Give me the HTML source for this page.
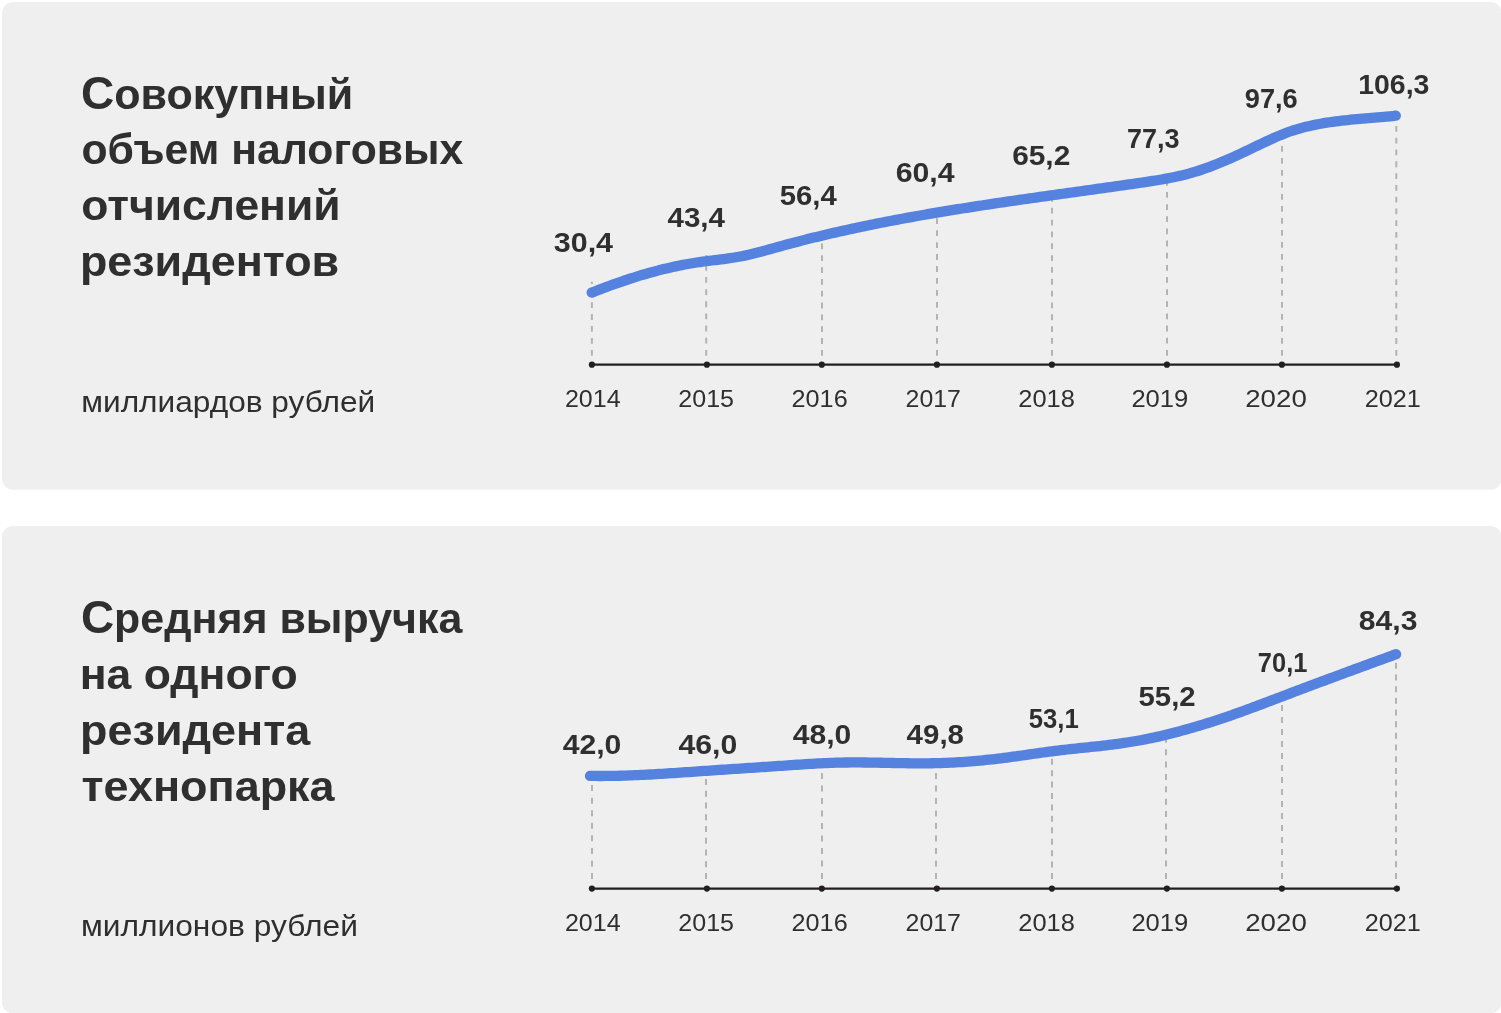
<!DOCTYPE html>
<html lang="ru"><head><meta charset="utf-8"><title>Показатели резидентов технопарка</title>
<style>
html,body{margin:0;padding:0;background:#fff;}
body{width:1501px;height:1013px;overflow:hidden;position:relative;}
svg{position:absolute;left:0;top:0;display:block;will-change:transform;}
.t{font-family:"Liberation Sans",Arial,sans-serif;font-weight:700;font-size:43px;fill:#2f2f2f;}
.s{font-family:"Liberation Sans",Arial,sans-serif;font-weight:400;font-size:30px;fill:#2f2f2f;}
.v{font-family:"Liberation Sans",Arial,sans-serif;font-weight:700;font-size:27px;fill:#2f2f2f;}
.y{font-family:"Liberation Sans",Arial,sans-serif;font-weight:400;font-size:24px;fill:#2f2f2f;}

</style></head><body>
<svg width="1501" height="1013" viewBox="0 0 1501 1013">
<rect x="2" y="2" width="1499.5" height="487.8" rx="11" ry="11" fill="#efefef"/>
<rect x="2" y="525.9" width="1499.5" height="487.4" rx="11" ry="11" fill="#efefef"/>
<line x1="591.9" y1="355.70" x2="591.9" y2="281.80" stroke="#b3b3b3" stroke-width="2" stroke-dasharray="5.8 6.130"/>
<line x1="706.2" y1="355.70" x2="706.2" y2="255.00" stroke="#b3b3b3" stroke-width="2" stroke-dasharray="5.8 6.343"/>
<line x1="822.0" y1="355.70" x2="822.0" y2="235.61" stroke="#b3b3b3" stroke-width="2" stroke-dasharray="5.8 6.022"/>
<line x1="937.0" y1="355.70" x2="937.0" y2="212.61" stroke="#b3b3b3" stroke-width="2" stroke-dasharray="5.8 6.173"/>
<line x1="1052.0" y1="355.70" x2="1052.0" y2="195.25" stroke="#b3b3b3" stroke-width="2" stroke-dasharray="5.8 6.042"/>
<line x1="1167.0" y1="355.70" x2="1167.0" y2="178.52" stroke="#b3b3b3" stroke-width="2" stroke-dasharray="5.8 6.346"/>
<line x1="1282.0" y1="355.70" x2="1282.0" y2="134.50" stroke="#b3b3b3" stroke-width="2" stroke-dasharray="5.8 6.200"/>
<line x1="1396.3" y1="355.70" x2="1396.3" y2="115.70" stroke="#b3b3b3" stroke-width="2" stroke-dasharray="5.8 5.984"/>
<line x1="591.9" y1="364.7" x2="1396.9" y2="364.7" stroke="#231f20" stroke-width="2.2"/>
<circle cx="591.9" cy="364.7" r="3.1" fill="#231f20"/>
<circle cx="706.9" cy="364.7" r="3.1" fill="#231f20"/>
<circle cx="821.8" cy="364.7" r="3.1" fill="#231f20"/>
<circle cx="936.9" cy="364.7" r="3.1" fill="#231f20"/>
<circle cx="1051.9" cy="364.7" r="3.1" fill="#231f20"/>
<circle cx="1166.9" cy="364.7" r="3.1" fill="#231f20"/>
<circle cx="1281.9" cy="364.7" r="3.1" fill="#231f20"/>
<circle cx="1396.9" cy="364.7" r="3.1" fill="#231f20"/>
<path d="M591.7,292.60L594.7,291.42L597.7,290.26L600.7,289.11L603.7,287.97L606.7,286.85L609.7,285.75L612.7,284.67L615.7,283.60L618.7,282.55L621.7,281.51L624.7,280.50L627.7,279.50L630.7,278.52L633.7,277.56L636.7,276.62L639.7,275.70L642.7,274.80L645.7,273.93L648.7,273.07L651.7,272.23L654.7,271.42L657.7,270.62L660.7,269.85L663.7,269.11L666.7,268.38L669.7,267.68L672.7,267.00L675.7,266.35L678.7,265.72L681.7,265.12L684.7,264.55L687.7,263.99L690.7,263.47L693.7,262.97L696.7,262.50L699.7,262.05L702.7,261.64L705.7,261.24L708.7,260.86L711.7,260.50L714.7,260.13L717.7,259.77L720.7,259.41L723.7,259.03L726.7,258.63L729.7,258.21L732.7,257.76L735.7,257.28L738.7,256.76L741.7,256.19L744.7,255.58L747.7,254.93L750.7,254.23L753.7,253.51L756.7,252.76L759.7,251.98L762.7,251.18L765.7,250.37L768.7,249.54L771.7,248.71L774.7,247.87L777.7,247.04L780.7,246.21L783.7,245.39L786.7,244.57L789.7,243.77L792.7,242.97L795.7,242.18L798.7,241.40L801.7,240.63L804.7,239.87L807.7,239.11L810.7,238.36L813.7,237.62L816.7,236.88L819.7,236.16L822.7,235.44L825.7,234.73L828.7,234.02L831.7,233.32L834.7,232.63L837.7,231.95L840.7,231.27L843.7,230.60L846.7,229.94L849.7,229.28L852.7,228.63L855.7,227.98L858.7,227.35L861.7,226.71L864.7,226.09L867.7,225.47L870.7,224.85L873.7,224.25L876.7,223.64L879.7,223.05L882.7,222.46L885.7,221.87L888.7,221.29L891.7,220.71L894.7,220.14L897.7,219.58L900.7,219.02L903.7,218.46L906.7,217.91L909.7,217.37L912.7,216.83L915.7,216.29L918.7,215.76L921.7,215.23L924.7,214.71L927.7,214.19L930.7,213.67L933.7,213.16L936.7,212.66L939.7,212.15L942.7,211.66L945.7,211.16L948.7,210.67L951.7,210.18L954.7,209.69L957.7,209.21L960.7,208.73L963.7,208.26L966.7,207.79L969.7,207.32L972.7,206.85L975.7,206.39L978.7,205.93L981.7,205.47L984.7,205.01L987.7,204.56L990.7,204.11L993.7,203.66L996.7,203.21L999.7,202.77L1002.7,202.32L1005.7,201.88L1008.7,201.44L1011.7,201.00L1014.7,200.57L1017.7,200.13L1020.7,199.70L1023.7,199.27L1026.7,198.84L1029.7,198.41L1032.7,197.98L1035.7,197.56L1038.7,197.13L1041.7,196.71L1044.7,196.28L1047.7,195.86L1050.7,195.44L1053.7,195.02L1056.7,194.59L1059.7,194.17L1062.7,193.75L1065.7,193.33L1068.7,192.91L1071.7,192.50L1074.7,192.08L1077.7,191.66L1080.7,191.24L1083.7,190.82L1086.7,190.40L1089.7,189.98L1092.7,189.56L1095.7,189.14L1098.7,188.72L1101.7,188.30L1104.7,187.87L1107.7,187.45L1110.7,187.03L1113.7,186.60L1116.7,186.18L1119.7,185.75L1122.7,185.32L1125.7,184.89L1128.7,184.47L1131.7,184.03L1134.7,183.60L1137.7,183.17L1140.7,182.73L1143.7,182.29L1146.7,181.85L1149.7,181.40L1152.7,180.94L1155.7,180.47L1158.7,179.98L1161.7,179.47L1164.7,178.94L1167.7,178.39L1170.7,177.81L1173.7,177.20L1176.7,176.56L1179.7,175.88L1182.7,175.17L1185.7,174.41L1188.7,173.62L1191.7,172.78L1194.7,171.89L1197.7,170.96L1200.7,169.98L1203.7,168.96L1206.7,167.91L1209.7,166.81L1212.7,165.68L1215.7,164.51L1218.7,163.31L1221.7,162.07L1224.7,160.81L1227.7,159.51L1230.7,158.18L1233.7,156.83L1236.7,155.46L1239.7,154.07L1242.7,152.66L1245.7,151.24L1248.7,149.81L1251.7,148.37L1254.7,146.94L1257.7,145.51L1260.7,144.08L1263.7,142.66L1266.7,141.26L1269.7,139.87L1272.7,138.51L1275.7,137.17L1278.7,135.88L1281.7,134.63L1284.7,133.43L1287.7,132.30L1290.7,131.24L1293.7,130.25L1296.7,129.31L1299.7,128.44L1302.7,127.62L1305.7,126.85L1308.7,126.14L1311.7,125.47L1314.7,124.84L1317.7,124.25L1320.7,123.70L1323.7,123.18L1326.7,122.70L1329.7,122.24L1332.7,121.82L1335.7,121.42L1338.7,121.04L1341.7,120.69L1344.7,120.35L1347.7,120.04L1350.7,119.74L1353.7,119.45L1356.7,119.17L1359.7,118.91L1362.7,118.65L1365.7,118.39L1368.7,118.14L1371.7,117.90L1374.7,117.65L1377.7,117.40L1380.7,117.14L1383.7,116.87L1386.7,116.60L1389.7,116.32L1392.7,116.02L1395.7,115.71L1395.8,115.70" fill="none" stroke="#5482de" stroke-width="10.3" stroke-linecap="round" stroke-linejoin="round"/>
<line x1="592.0" y1="879.00" x2="592.0" y2="775.94" stroke="#b3b3b3" stroke-width="2" stroke-dasharray="6.0 6.557"/>
<line x1="706.0" y1="879.00" x2="706.0" y2="770.84" stroke="#b3b3b3" stroke-width="2" stroke-dasharray="6.0 5.763"/>
<line x1="822.0" y1="879.00" x2="822.0" y2="763.25" stroke="#b3b3b3" stroke-width="2" stroke-dasharray="6.0 6.487"/>
<line x1="936.0" y1="879.00" x2="936.0" y2="763.17" stroke="#b3b3b3" stroke-width="2" stroke-dasharray="6.0 6.487"/>
<line x1="1052.0" y1="879.00" x2="1052.0" y2="751.31" stroke="#b3b3b3" stroke-width="2" stroke-dasharray="6.0 5.430"/>
<line x1="1166.0" y1="879.00" x2="1166.0" y2="734.75" stroke="#b3b3b3" stroke-width="2" stroke-dasharray="6.0 6.380"/>
<line x1="1282.0" y1="879.00" x2="1282.0" y2="696.47" stroke="#b3b3b3" stroke-width="2" stroke-dasharray="6.0 5.993"/>
<line x1="1396.0" y1="879.00" x2="1396.0" y2="654.24" stroke="#b3b3b3" stroke-width="2" stroke-dasharray="6.0 5.678"/>
<line x1="591.9" y1="888.6" x2="1396.9" y2="888.6" stroke="#231f20" stroke-width="2.2"/>
<circle cx="591.9" cy="888.6" r="3.1" fill="#231f20"/>
<circle cx="706.9" cy="888.6" r="3.1" fill="#231f20"/>
<circle cx="821.8" cy="888.6" r="3.1" fill="#231f20"/>
<circle cx="936.9" cy="888.6" r="3.1" fill="#231f20"/>
<circle cx="1051.9" cy="888.6" r="3.1" fill="#231f20"/>
<circle cx="1166.9" cy="888.6" r="3.1" fill="#231f20"/>
<circle cx="1281.9" cy="888.6" r="3.1" fill="#231f20"/>
<circle cx="1396.9" cy="888.6" r="3.1" fill="#231f20"/>
<path d="M590.0,775.91L593.0,775.95L596.0,775.97L599.0,775.99L602.0,775.99L605.0,775.97L608.0,775.95L611.0,775.91L614.0,775.86L617.0,775.80L620.0,775.73L623.0,775.64L626.0,775.55L629.0,775.45L632.0,775.34L635.0,775.22L638.0,775.09L641.0,774.95L644.0,774.81L647.0,774.65L650.0,774.50L653.0,774.33L656.0,774.16L659.0,773.98L662.0,773.80L665.0,773.62L668.0,773.43L671.0,773.23L674.0,773.04L677.0,772.84L680.0,772.63L683.0,772.43L686.0,772.22L689.0,772.02L692.0,771.81L695.0,771.60L698.0,771.39L701.0,771.18L704.0,770.97L707.0,770.77L710.0,770.56L713.0,770.36L716.0,770.16L719.0,769.96L722.0,769.76L725.0,769.56L728.0,769.36L731.0,769.16L734.0,768.97L737.0,768.77L740.0,768.57L743.0,768.38L746.0,768.18L749.0,767.98L752.0,767.78L755.0,767.59L758.0,767.39L761.0,767.19L764.0,766.99L767.0,766.79L770.0,766.59L773.0,766.39L776.0,766.18L779.0,765.98L782.0,765.77L785.0,765.56L788.0,765.35L791.0,765.15L794.0,764.94L797.0,764.74L800.0,764.54L803.0,764.34L806.0,764.15L809.0,763.96L812.0,763.79L815.0,763.61L818.0,763.45L821.0,763.30L824.0,763.16L827.0,763.02L830.0,762.91L833.0,762.80L836.0,762.71L839.0,762.63L842.0,762.56L845.0,762.52L848.0,762.48L851.0,762.46L854.0,762.45L857.0,762.45L860.0,762.47L863.0,762.49L866.0,762.52L869.0,762.56L872.0,762.60L875.0,762.65L878.0,762.70L881.0,762.76L884.0,762.81L887.0,762.87L890.0,762.93L893.0,762.99L896.0,763.05L899.0,763.10L902.0,763.16L905.0,763.20L908.0,763.24L911.0,763.28L914.0,763.30L917.0,763.32L920.0,763.33L923.0,763.33L926.0,763.31L929.0,763.29L932.0,763.25L935.0,763.19L938.0,763.12L941.0,763.04L944.0,762.94L947.0,762.82L950.0,762.69L953.0,762.54L956.0,762.38L959.0,762.21L962.0,762.02L965.0,761.81L968.0,761.59L971.0,761.36L974.0,761.11L977.0,760.85L980.0,760.58L983.0,760.29L986.0,759.99L989.0,759.67L992.0,759.35L995.0,759.01L998.0,758.65L1001.0,758.29L1004.0,757.91L1007.0,757.53L1010.0,757.13L1013.0,756.72L1016.0,756.31L1019.0,755.90L1022.0,755.48L1025.0,755.05L1028.0,754.63L1031.0,754.20L1034.0,753.77L1037.0,753.35L1040.0,752.93L1043.0,752.51L1046.0,752.10L1049.0,751.70L1052.0,751.31L1055.0,750.92L1058.0,750.55L1061.0,750.19L1064.0,749.84L1067.0,749.50L1070.0,749.17L1073.0,748.85L1076.0,748.53L1079.0,748.22L1082.0,747.91L1085.0,747.60L1088.0,747.29L1091.0,746.98L1094.0,746.66L1097.0,746.34L1100.0,746.01L1103.0,745.67L1106.0,745.31L1109.0,744.95L1112.0,744.58L1115.0,744.19L1118.0,743.79L1121.0,743.37L1124.0,742.94L1127.0,742.49L1130.0,742.02L1133.0,741.53L1136.0,741.02L1139.0,740.50L1142.0,739.95L1145.0,739.37L1148.0,738.78L1151.0,738.16L1154.0,737.52L1157.0,736.86L1160.0,736.17L1163.0,735.47L1166.0,734.75L1169.0,734.01L1172.0,733.25L1175.0,732.48L1178.0,731.69L1181.0,730.89L1184.0,730.07L1187.0,729.23L1190.0,728.39L1193.0,727.52L1196.0,726.65L1199.0,725.75L1202.0,724.85L1205.0,723.93L1208.0,723.00L1211.0,722.05L1214.0,721.09L1217.0,720.11L1220.0,719.12L1223.0,718.12L1226.0,717.11L1229.0,716.08L1232.0,715.04L1235.0,713.98L1238.0,712.91L1241.0,711.84L1244.0,710.75L1247.0,709.65L1250.0,708.54L1253.0,707.43L1256.0,706.31L1259.0,705.19L1262.0,704.06L1265.0,702.92L1268.0,701.79L1271.0,700.65L1274.0,699.51L1277.0,698.37L1280.0,697.23L1283.0,696.09L1286.0,694.95L1289.0,693.82L1292.0,692.68L1295.0,691.55L1298.0,690.42L1301.0,689.29L1304.0,688.16L1307.0,687.04L1310.0,685.91L1313.0,684.79L1316.0,683.67L1319.0,682.54L1322.0,681.42L1325.0,680.31L1328.0,679.19L1331.0,678.07L1334.0,676.96L1337.0,675.85L1340.0,674.74L1343.0,673.63L1346.0,672.52L1349.0,671.41L1352.0,670.30L1355.0,669.20L1358.0,668.10L1361.0,666.99L1364.0,665.89L1367.0,664.79L1370.0,663.70L1373.0,662.60L1376.0,661.50L1379.0,660.41L1382.0,659.32L1385.0,658.23L1388.0,657.14L1391.0,656.05L1394.0,654.96L1396.1,654.20" fill="none" stroke="#5482de" stroke-width="10.3" stroke-linecap="round" stroke-linejoin="round"/>
<text class="t" x="81.00" y="108.50" textLength="272.31" lengthAdjust="spacingAndGlyphs"><tspan style="font-size:46px">С</tspan>овокупный</text>
<text class="t" x="81.49" y="164.40" textLength="381.81" lengthAdjust="spacingAndGlyphs">объем налоговых</text>
<text class="t" x="81.15" y="220.40" textLength="259.44" lengthAdjust="spacingAndGlyphs">отчислений</text>
<text class="t" x="79.90" y="275.60" textLength="259.26" lengthAdjust="spacingAndGlyphs">резидентов</text>
<text class="s" x="81.23" y="411.80" textLength="294.00" lengthAdjust="spacingAndGlyphs">миллиардов рублей</text>
<text class="t" x="80.91" y="632.60" textLength="381.47" lengthAdjust="spacingAndGlyphs"><tspan style="font-size:46px">С</tspan>редняя выручка</text>
<text class="t" x="79.70" y="688.60" textLength="218.06" lengthAdjust="spacingAndGlyphs">на одного</text>
<text class="t" x="80.14" y="744.60" textLength="230.09" lengthAdjust="spacingAndGlyphs">резидента</text>
<text class="t" x="81.62" y="800.50" textLength="252.93" lengthAdjust="spacingAndGlyphs">технопарка</text>
<text class="s" x="80.90" y="936.00" textLength="276.98" lengthAdjust="spacingAndGlyphs">миллионов рублей</text>
<text class="v" x="553.83" y="251.50" textLength="59.22" lengthAdjust="spacingAndGlyphs">30,4</text>
<text class="v" x="667.52" y="227.00" textLength="57.49" lengthAdjust="spacingAndGlyphs">43,4</text>
<text class="v" x="779.75" y="204.60" textLength="56.92" lengthAdjust="spacingAndGlyphs">56,4</text>
<text class="v" x="895.68" y="181.60" textLength="58.95" lengthAdjust="spacingAndGlyphs">60,4</text>
<text class="v" x="1012.15" y="164.90" textLength="58.14" lengthAdjust="spacingAndGlyphs">65,2</text>
<text class="v" x="1126.92" y="148.00" textLength="52.58" lengthAdjust="spacingAndGlyphs">77,3</text>
<text class="v" x="1244.74" y="107.70" textLength="53.02" lengthAdjust="spacingAndGlyphs">97,6</text>
<text class="v" x="1358.16" y="94.00" textLength="71.24" lengthAdjust="spacingAndGlyphs">106,3</text>
<text class="v" x="562.65" y="754.40" textLength="58.79" lengthAdjust="spacingAndGlyphs">42,0</text>
<text class="v" x="678.46" y="754.40" textLength="58.90" lengthAdjust="spacingAndGlyphs">46,0</text>
<text class="v" x="792.76" y="744.00" textLength="58.57" lengthAdjust="spacingAndGlyphs">48,0</text>
<text class="v" x="906.64" y="744.00" textLength="57.35" lengthAdjust="spacingAndGlyphs">49,8</text>
<text class="v" x="1028.84" y="727.90" textLength="49.94" lengthAdjust="spacingAndGlyphs">53,1</text>
<text class="v" x="1138.56" y="706.00" textLength="57.09" lengthAdjust="spacingAndGlyphs">55,2</text>
<text class="v" x="1257.87" y="671.90" textLength="49.49" lengthAdjust="spacingAndGlyphs">70,1</text>
<text class="v" x="1358.81" y="630.00" textLength="58.64" lengthAdjust="spacingAndGlyphs">84,3</text>
<text class="y" x="564.95" y="407.10" textLength="55.67" lengthAdjust="spacingAndGlyphs">2014</text>
<text class="y" x="678.32" y="407.10" textLength="55.70" lengthAdjust="spacingAndGlyphs">2015</text>
<text class="y" x="791.55" y="407.10" textLength="56.11" lengthAdjust="spacingAndGlyphs">2016</text>
<text class="y" x="905.64" y="407.10" textLength="55.31" lengthAdjust="spacingAndGlyphs">2017</text>
<text class="y" x="1018.26" y="407.10" textLength="56.62" lengthAdjust="spacingAndGlyphs">2018</text>
<text class="y" x="1131.40" y="407.10" textLength="56.83" lengthAdjust="spacingAndGlyphs">2019</text>
<text class="y" x="1245.22" y="407.10" textLength="61.59" lengthAdjust="spacingAndGlyphs">2020</text>
<text class="y" x="1364.66" y="407.10" textLength="56.10" lengthAdjust="spacingAndGlyphs">2021</text>
<text class="y" x="564.95" y="931.10" textLength="55.67" lengthAdjust="spacingAndGlyphs">2014</text>
<text class="y" x="678.32" y="931.10" textLength="55.70" lengthAdjust="spacingAndGlyphs">2015</text>
<text class="y" x="791.55" y="931.10" textLength="56.11" lengthAdjust="spacingAndGlyphs">2016</text>
<text class="y" x="905.64" y="931.10" textLength="55.31" lengthAdjust="spacingAndGlyphs">2017</text>
<text class="y" x="1018.26" y="931.10" textLength="56.62" lengthAdjust="spacingAndGlyphs">2018</text>
<text class="y" x="1131.40" y="931.10" textLength="56.83" lengthAdjust="spacingAndGlyphs">2019</text>
<text class="y" x="1245.22" y="931.10" textLength="61.59" lengthAdjust="spacingAndGlyphs">2020</text>
<text class="y" x="1364.66" y="931.10" textLength="56.10" lengthAdjust="spacingAndGlyphs">2021</text>
</svg>
</body></html>
